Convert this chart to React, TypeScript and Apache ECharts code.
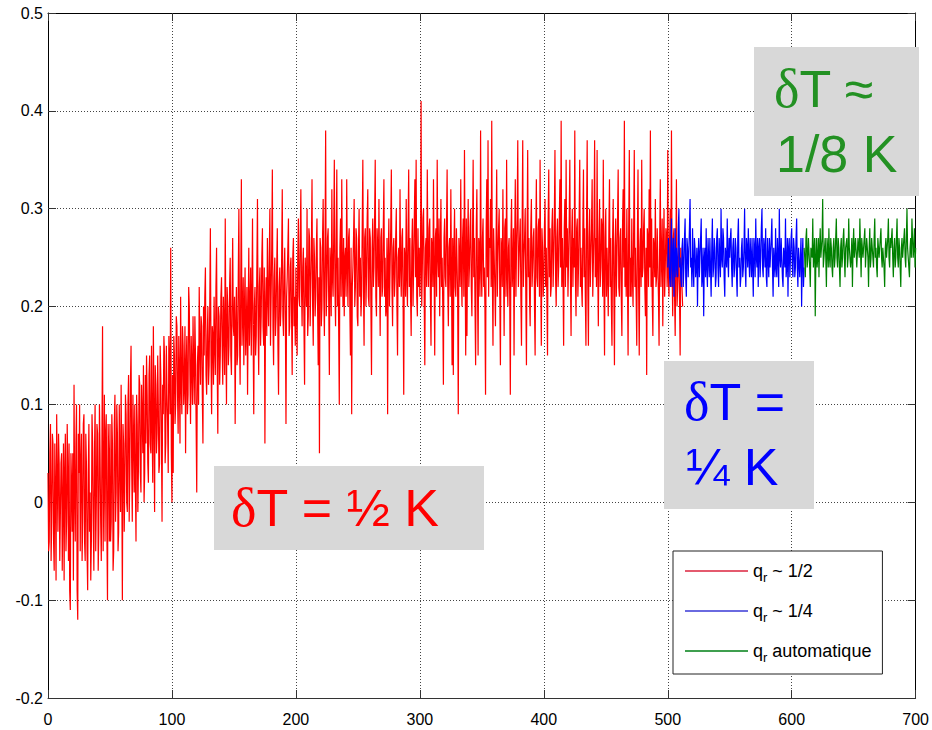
import React, { useEffect, useRef } from 'react';
import * as echarts from 'echarts';

// ---- data ----
const xMin = 0;
const xMax = 700;
const xInterval = 100;
const yMin = -0.2;
const yMax = 0.5;
const yInterval = 0.1;

const seriesNames = ['qr ~ 1/2', 'qr ~ 1/4', 'qr automatique'];
const seriesColors = ['#ff0000', '#0000ff', '#008000'];
const legendColors = ['#e45a6e', '#6a6ae0', '#3f9f4f'];

// samples at whole x steps (start, start+1, ...)
const redStart = 0;
const redValues = [
  .03,-.04,.08,-.02,.06,-.07,.01,.09,-.03,.04,
  -.06,.05,.00,-.08,.07,-.02,.03,.06,-.11,.02,
  .05,.12,-.04,.10,-.12,.03,-.05,.07,-.02,.09,
  -.06,.04,-.09,.08,.01,-.04,.06,-.07,.10,.00,
  .07,-.03,.05,-.06,.18,.02,-.04,.09,-.10,.05,
  .08,-.02,.06,-.05,.11,.01,.07,-.03,.04,.12,
  -.10,.06,.02,.09,-.01,.13,.03,.16,-.02,.07,
  .10,-.04,.08,.04,.12,.01,.09,.14,.03,.06,
  .11,.02,.15,.05,.08,.18,-.01,.12,.07,.10,
  .04,.13,-.02,.09,.15,.06,.11,.03,.14,.26,
  .00,.03,.15,.10,.18,.07,.13,.21,.09,.16,
  .12,.05,.17,.11,.20,.08,.14,.19,.10,.15,
  .01,.16,.22,.12,.18,.06,.15,.24,.11,.20,
  .14,.28,.09,.17,.21,.13,.26,.07,.19,.15,
  .23,.12,.18,.29,.10,.20,.16,.25,.13,.27,
  .17,.08,.22,.15,.30,.12,.33,.19,.14,.24,
  .18,.11,.26,.20,.15,.29,.09,.22,.17,.31,
  .13,.24,.19,.28,.16,.06,.23,.27,.18,.30,
  .21,.34,.14,.25,.19,.28,.11,.24,.20,.32,
  .17,.26,.08,.23,.29,.18,.25,.13,.27,.21,
  .24,.15,.29,.20,.32,.18,.26,.12,.23,.30,
  .19,.27,.22,.33,.16,.25,.21,.29,.14,.05,
  .26,.20,.31,.17,.38,.22,.28,.13,.24,.32,
  .21,.35,.18,.34,.25,.10,.29,.33,.20,.19,
  .26,.33,.20,.28,.15,.09,.24,.31,.22,.27,
  .18,.30,.25,.21,.35,.16,.28,.23,.32,.20,
  .27,.13,.29,.24,.35,.19,.26,.31,.17,.28,
  .22,.33,.25,.20,.09,.29,.24,.34,.18,.27,
  .23,.30,.15,.26,.32,.21,.28,.11,.25,.31,
  .20,.34,.27,.17,.29,.24,.33,.35,.19,.22,
  .21,.41,.24,.30,.14,.27,.34,.22,.29,.16,
  .26,.33,.15,.28,.35,.23,.19,.31,.25,.12,
  .29,.22,.34,.18,.27,.32,.14,.13,.30,.21,
  .28,.09,.25,.33,.20,.29,.36,.15,.17,.31,
  .24,.30,.19,.35,.27,.14,.32,.15,.26,.38,
  .21,.29,.24,.11,.33,.37,.27,.31,.39,.16,
  .28,.18,.34,.25,.30,.14,.26,.32,.17,.29,
  .35,.20,.27,.11,.31,.24,.15,.33,.26,.37,
  .22,.29,.16,.37,.25,.30,.14,.36,.27,.18,
  .31,.24,.28,.15,.33,.22,.29,.35,.16,.26,
  .23,.31,.26,.15,.34,.28,.22,.30,.25,.36,
  .20,.29,.24,.33,.39,.27,.16,.31,.35,.28,
  .25,.35,.17,.30,.27,.38,.19,.29,.24,.35,
  .26,.20,.34,.28,.16,.37,.16,.30,.25,.33,
  .21,.37,.27,.36,.18,.31,.24,.28,.35,.15,
  .30,.26,.19,.33,.27,.16,.31,.14,.29,.25,
  .34,.21,.28,.17,.32,.39,.27,.30,.15,.36,
  .25,.29,.20,.36,.26,.16,.34,.15,.28,.35,
  .24,.30,.19,.13,.27,.32,.38,.29,.17,.26,
  .31,.23,.28,.16,.33,.25,.18,.30,.24,.27,
  .36,.21,.30,.38,.19,.28,.17,.33,.22,.26,.15,.24,.20
];
// samples half a step later (start+0.5, start+1.5, ...)
const redHalfValues = [
  -.05,.05,-.06,.07,-.04,.06,-.08,.02,.07,-.06,
  .04,-.07,.06,.03,-.05,.08,-.06,-.09,.05,-.03,
  -.08,.01,.06,-.09,.07,.10,.04,-.06,.08,-.04,
  .07,-.05,.03,-.03,-.08,.09,-.02,.05,-.05,.08,
  -.07,.10,-.02,.06,-.05,.11,.07,-.03,.08,-.04,
  -.04,.09,-.07,.08,-.02,.10,-.05,.10,-.01,.03,
  .08,-.03,.11,.00,.10,-.02,.12,.04,.11,.01,
  .02,.11,-.01,.13,.03,.12,.05,.00,.13,.15,
  .04,.13,.06,.16,.02,.09,.14,.05,.15,.03,
  .16,.07,.12,.17,.04,.16,.08,.17,.09,.05,
  .13,.17,.08,.19,.11,.17,.06,.12,.18,.10,
  .18,.14,.09,.22,.13,.17,.10,.14,.19,.08,
  .14,.10,.16,.19,.11,.20,.21,.13,.17,.12,
  .20,.15,.18,.12,.16,.22,.14,.20,.12,.21,
  .16,.21,.13,.17,.22,.14,.22,.15,.21,.18,
  .21,.18,.14,.23,.17,.22,.16,.23,.20,.15,
  .22,.19,.16,.24,.21,.17,.20,.15,.24,.18,
  .22,.16,.25,.18,.24,.20,.17,.21,.25,.16,
  .26,.18,.23,.17,.24,.16,.22,.18,.25,.19,
  .23,.19,.21,.26,.17,.24,.19,.25,.18,.16,
  .19,.25,.21,.27,.22,.24,.18,.25,.20,.17,
  .28,.18,.26,.20,.27,.19,.26,.20,.23,.27,
  .18,.27,.21,.26,.19,.27,.20,.26,.19,.23,
  .27,.22,.26,.20,.18,.26,.21,.24,.27,.25,
  .21,.24,.27,.20,.26,.22,.27,.20,.28,.19,
  .26,.21,.19,.28,.22,.27,.20,.29,.21,.28,
  .20,.26,.22,.29,.21,.28,.22,.23,.27,.21,
  .28,.21,.19,.27,.25,.20,.28,.22,.26,.21,
  .27,.20,.25,.22,.24,.27,.20,.26,.21,.23,
  .28,.22,.21,.26,.20,.29,.23,.21,.28,.26,
  .24,.20,.29,.21,.26,.22,.25,.28,.21,.27,
  .22,.24,.27,.21,.25,.29,.26,.22,.20,.27,
  .23,.28,.22,.26,.21,.24,.27,.26,.22,.28,
  .21,.27,.22,.24,.27,.21,.25,.29,.26,.22,
  .28,.22,.27,.23,.20,.28,.22,.27,.21,.24,
  .27,.22,.20,.28,.23,.21,.26,.22,.23,.28,
  .22,.27,.21,.28,.21,.27,.22,.24,.28,.21,
  .23,.26,.21,.27,.22,.28,.26,.21,.29,.22,
  .27,.21,.28,.22,.27,.21,.27,.23,.21,.28,
  .22,.27,.20,.27,.23,.28,.21,.24,.28,.21,
  .28,.22,.21,.29,.23,.21,.28,.22,.29,.23,
  .27,.22,.29,.24,.22,.23,.28,.22,.24,.21,
  .29,.23,.27,.22,.24,.23,.28,.21,.29,.22,
  .22,.28,.23,.21,.29,.22,.27,.22,.28,.21,
  .28,.23,.22,.24,.27,.22,.29,.21,.23,.27,
  .21,.23,.28,.22,.20,.27,.22,.26,.21,.29,
  .22,.27,.21,.28,.24,.22,.21,.23,.28,.21,
  .21,.23,.28,.22,.21,.27,.22,.26,.22,.23,
  .28,.22,.26,.28,.22,.24,.22,.21,.27,.23,
  .22,.28,.21,.27,.22,.29,.26,.21,.28,.22,
  .23,.27,.22,.24,.27,.21,.25,.20,.24,.21,.26,.22
];

const blueStart = 500;
const blueValues = [
  .24,.27,.22,.29,.25,.21,.28,.26,.23,.30,
  .25,.22,.27,.24,.29,.21,.26,.23,.31,.25,
  .28,.22,.26,.24,.20,.27,.25,.29,.23,.19,
  .26,.28,.22,.25,.27,.21,.29,.24,.26,.23,
  .28,.22,.25,.30,.24,.27,.21,.26,.29,.23,
  .25,.28,.22,.27,.24,.26,.21,.29,.25,.23,
  .27,.24,.30,.22,.26,.28,.23,.25,.27,.21,
  .26,.29,.24,.22,.27,.25,.30,.23,.26,.28,
  .22,.25,.27,.24,.29,.21,.26,.28,.23,.25,
  .30,.24,.27,.22,.26,.29,.24,.21,.27,.25,
  .28,.23,.26,.24,.29,.22,.26,.25,.20,.27,.24
];
const blueHalfValues = [
  .27,.23,.26,.22,.27,.25,.23,.24,.28,.24,
  .23,.26,.22,.27,.23,.27,.23,.28,.24,.22,
  .24,.27,.23,.26,.25,.23,.27,.22,.26,.25,
  .23,.24,.27,.23,.24,.26,.23,.27,.22,.27,
  .24,.27,.23,.25,.28,.23,.26,.24,.25,.27,
  .27,.24,.26,.23,.27,.23,.27,.24,.22,.26,
  .23,.26,.24,.27,.24,.25,.27,.23,.24,.27,
  .23,.25,.27,.26,.23,.28,.24,.27,.24,.23,
  .27,.23,.24,.27,.24,.26,.23,.24,.27,.22,
  .25,.27,.23,.26,.24,.23,.27,.26,.23,.27,
  .24,.27,.23,.27,.24,.26,.23,.27,.25,.22
];

const greenStart = 610;
const greenValues = [
  .26,.23,.28,.25,.27,.22,.26,.29,.24,.19,
  .27,.25,.23,.28,.26,.31,.24,.27,.22,.26,
  .28,.24,.26,.23,.27,.25,.29,.24,.26,.22,
  .27,.25,.28,.23,.26,.24,.29,.26,.25,.22,
  .28,.25,.27,.24,.26,.29,.23,.27,.25,.28,
  .24,.26,.22,.28,.25,.27,.24,.29,.26,.23,
  .27,.25,.28,.24,.26,.22,.27,.25,.29,.24,
  .26,.28,.23,.27,.25,.29,.24,.26,.22,.27,
  .25,.28,.24,.30,.26,.23,.27,.29,.25,.28,.26
];
const greenHalfValues = [
  .25,.27,.24,.27,.24,.26,.25,.24,.27,.25,
  .24,.27,.26,.25,.27,.24,.26,.25,.27,.24,
  .25,.27,.24,.26,.24,.27,.25,.27,.24,.26,
  .24,.27,.25,.26,.27,.25,.26,.24,.27,.26,
  .25,.27,.24,.27,.25,.26,.27,.25,.27,.24,
  .27,.25,.26,.24,.27,.25,.27,.25,.24,.27,
  .25,.27,.25,.26,.24,.26,.25,.27,.25,.27,
  .27,.25,.26,.24,.27,.25,.27,.24,.26,.25,
  .27,.25,.27,.26,.24,.26,.25,.27,.26,.24
];

const annotationTexts = [
  { lines: ['{d|δ}T = ½ K'], color: '#ff0000' },
  { lines: ['{d|δ}T =', '¼ K'], color: '#0000ff' },
  { lines: ['{d|δ}T ≈', '1/8 K'], color: '#239123' }
];

// merge whole-step and half-step samples into one ordered list of [x, y]
const mergeSamples = (start: number, whole: number[], half: number[]) => {
  const out: number[][] = [];
  whole.forEach((v, i) => {
    out.push([start + i, v]);
    if (i < half.length) out.push([start + i + 0.5, half[i]]);
  });
  return out;
};

export default function App() {
  const ref = useRef<HTMLDivElement>(null);
  useEffect(() => {
    if (!ref.current) return;
    const chart = echarts.init(ref.current, null, { renderer: 'svg' });
    const font = 'Liberation Sans';
    const gridLine = { show: true, lineStyle: { color: '#444', type: [1, 2] as any, width: 1 } };
    const boxes = [
      { x: 214, y: 466, w: 270, h: 84 },
      { x: 664, y: 361, w: 150, h: 148 },
      { x: 754, y: 47, w: 165, h: 149 }
    ];
    const textPos = [
      [[231, 508]],
      [[684, 402], [686, 467]],
      [[774, 89], [776, 154]]
    ];
    const graphics: any[] = [];
    boxes.forEach((b, i) => {
      graphics.push({ type: 'rect', z: 100, shape: { x: b.x, y: b.y, width: b.w, height: b.h }, style: { fill: '#d8d8d8' }, silent: true });
      annotationTexts[i].lines.forEach((t, j) => {
        const [tx, ty] = textPos[i][j];
        graphics.push({
          type: 'text', z: 101, x: tx, y: ty, silent: true,
          style: {
            text: t, fill: annotationTexts[i].color, fontFamily: font, fontSize: 52,
            align: 'left', verticalAlign: 'middle',
            rich: { d: { fontFamily: 'Liberation Serif', fontSize: 54, fill: annotationTexts[i].color } }
          }
        });
      });
    });

    const dataList = [
      mergeSamples(redStart, redValues, redHalfValues),
      mergeSamples(blueStart, blueValues, blueHalfValues),
      mergeSamples(greenStart, greenValues, greenHalfValues)
    ];

    chart.setOption({
      animation: false,
      grid: { left: 48, right: 14, top: 13, bottom: 32, show: false },
      xAxis: [
        {
          type: 'value', min: xMin, max: xMax, interval: xInterval, position: 'bottom',
          axisLine: { show: true, onZero: false, lineStyle: { color: '#333', width: 1 } },
          axisTick: { show: true, inside: true, length: 8, lineStyle: { color: '#333' } },
          axisLabel: { color: '#000', fontFamily: font, fontSize: 16, margin: 13 },
          splitLine: gridLine
        },
        {
          type: 'value', min: xMin, max: xMax, interval: xInterval, position: 'top',
          axisLine: { show: true, onZero: false, lineStyle: { color: '#000', width: 1 } },
          axisTick: { show: true, inside: true, length: 8, lineStyle: { color: '#333' } },
          axisLabel: { show: false }, splitLine: { show: false }
        }
      ],
      yAxis: [
        {
          type: 'value', min: yMin, max: yMax, interval: yInterval, position: 'left',
          axisLine: { show: true, onZero: false, lineStyle: { color: '#000', width: 1 } },
          axisTick: { show: true, inside: true, length: 8, lineStyle: { color: '#333' } },
          axisLabel: { color: '#000', fontFamily: font, fontSize: 16, margin: 5, formatter: (v: number) => String(+v.toFixed(1)) },
          splitLine: gridLine
        },
        {
          type: 'value', min: yMin, max: yMax, interval: yInterval, position: 'right',
          axisLine: { show: true, onZero: false, lineStyle: { color: '#000', width: 1 } },
          axisTick: { show: true, inside: true, length: 8, lineStyle: { color: '#333' } },
          axisLabel: { show: false }, splitLine: { show: false }
        }
      ],
      legend: {
        orient: 'vertical', left: 673, top: 551,
        data: seriesNames.map((n, i) => ({ name: n, itemStyle: { color: legendColors[i] } })),
        selectedMode: false,
        backgroundColor: '#fff', borderColor: '#222', borderWidth: 1, borderRadius: 0,
        padding: [11, 11, 10, 12],
        itemGap: 18, itemWidth: 63, itemHeight: 2, icon: 'rect',
        formatter: (name: string) => '{q|q}{r|r}{t|' + name.slice(2) + '}',
        textStyle: {
          color: '#000', fontFamily: font, fontSize: 18,
          rich: {
            q: { fontFamily: font, fontSize: 18, lineHeight: 26, color: '#000' },
            t: { fontFamily: font, fontSize: 18, lineHeight: 26, color: '#000' },
            r: { fontFamily: font, fontSize: 13, lineHeight: 12, verticalAlign: 'bottom', color: '#000' }
          }
        }
      },
      graphic: graphics,
      series: dataList.map((d, i) => ({
        name: seriesNames[i], type: 'line', data: d, showSymbol: false, symbol: 'none',
        xAxisIndex: 0, yAxisIndex: 0, silent: true,
        lineStyle: { color: seriesColors[i], width: 1.2 },
        itemStyle: { color: seriesColors[i] }
      }))
    });
    return () => chart.dispose();
  }, []);
  return <div ref={ref} style={{ position: 'fixed', left: 0, top: 0, width: 932, height: 730, background: '#fff' }} />;
}
